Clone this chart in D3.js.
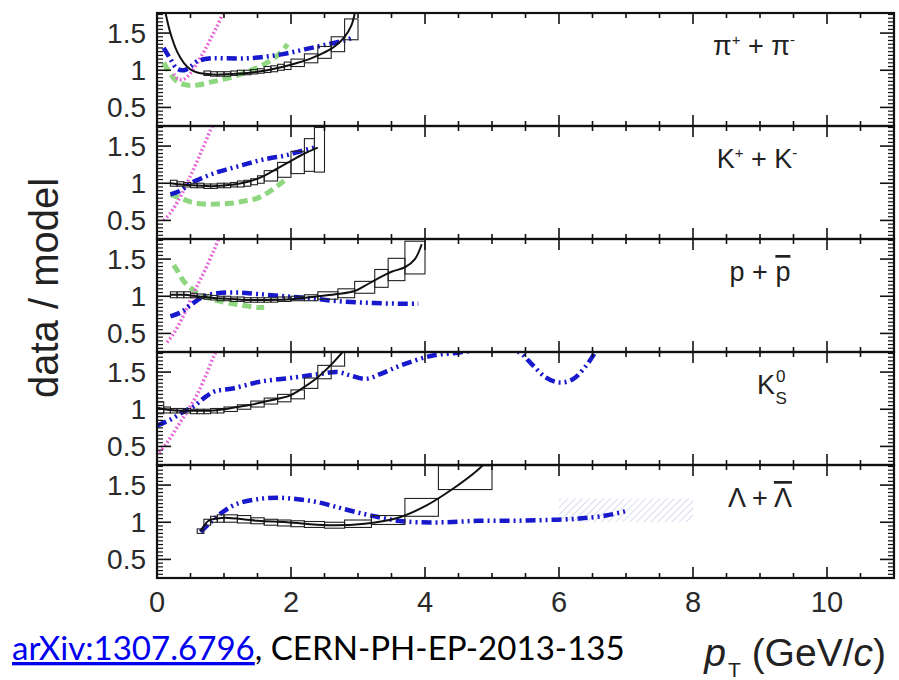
<!DOCTYPE html>
<html><head><meta charset="utf-8">
<script src="https://cdn.jsdelivr.net/npm/d3@7"></script>
<style>body{margin:0;background:#fff}</style>
</head><body><svg id="c" width="899" height="680"></svg>
<script>
// ---------------- data ----------------
const panelNames = ["pi", "K", "p", "K0S", "Lambda"];
const xTickValues = [0, 2, 4, 6, 8, 10];
const yTickValues = [0.5, 1, 1.5];
const xDomain = [0, 11];
const yDomain = [0.25, 1.77];

// black fit ratio curves [pT, data/model]
const piBlack = [[0.12,1.8],[0.2,1.5],[0.3,1.25],[0.4,1.1],[0.5,1.01],[0.6,0.97],[0.75,0.95],[0.9,0.94],[1.1,0.95],[1.3,0.96],[1.5,0.98],[1.7,1.01],[1.9,1.05],[2.1,1.1],[2.3,1.16],[2.5,1.24],[2.65,1.32],[2.8,1.45],[2.9,1.6],[2.96,1.8]];
const kBlack = [[0.2,1.0],[0.4,0.98],[0.6,0.97],[0.8,0.96],[1.0,0.97],[1.2,0.99],[1.4,1.03],[1.6,1.1],[1.8,1.2],[2.0,1.3],[2.2,1.4],[2.4,1.48]];
const pBlack = [[0.2,1.02],[0.4,1.02],[0.6,1.0],[0.8,0.98],[1.0,0.97],[1.3,0.95],[1.6,0.95],[2.0,0.96],[2.4,1.0],[2.7,1.03],[2.95,1.07],[3.1,1.14],[3.3,1.24],[3.5,1.33],[3.7,1.39],[3.85,1.5],[3.95,1.7]];
const k0Black = [[0.0,1.02],[0.2,0.99],[0.4,0.98],[0.6,0.98],[0.8,0.98],[1.0,1.0],[1.2,1.03],[1.4,1.06],[1.6,1.1],[1.8,1.14],[2.0,1.19],[2.2,1.3],[2.4,1.43],[2.6,1.6],[2.8,1.8]];
const lamBlack = [[0.65,0.88],[0.77,1.02],[0.9,1.05],[1.02,1.06],[1.5,1.02],[1.94,1.0],[2.55,0.96],[3.1,0.98],[3.6,1.06],[4.03,1.23],[4.4,1.44],[4.77,1.69],[4.9,1.8]];

// systematic boxes [pT low, pT high, ratio, syst]
const piBoxes = [[0.7,0.8,0.96,0.03],[0.8,0.9,0.95,0.03],[0.9,1.0,0.95,0.03],[1.0,1.1,0.95,0.03],[1.1,1.2,0.96,0.03],[1.2,1.3,0.97,0.03],[1.3,1.4,0.97,0.03],[1.4,1.5,0.98,0.03],[1.5,1.6,0.99,0.03],[1.6,1.7,1.01,0.04],[1.7,1.8,1.02,0.04],[1.8,1.9,1.04,0.04],[1.9,2.0,1.06,0.05],[2.0,2.2,1.1,0.05],[2.2,2.4,1.16,0.06],[2.4,2.6,1.24,0.08],[2.6,2.8,1.35,0.1],[2.8,3.0,1.55,0.14]];
const kBoxes = [[0.2,0.3,1.0,0.04],[0.3,0.4,0.99,0.03],[0.4,0.5,0.98,0.03],[0.5,0.6,0.97,0.03],[0.6,0.7,0.97,0.03],[0.7,0.8,0.96,0.03],[0.8,0.9,0.96,0.03],[0.9,1.0,0.97,0.03],[1.0,1.1,0.97,0.03],[1.1,1.2,0.98,0.03],[1.2,1.3,0.99,0.04],[1.3,1.4,1.0,0.04],[1.4,1.5,1.02,0.04],[1.5,1.6,1.05,0.05],[1.6,1.8,1.1,0.07],[1.8,2.0,1.18,0.1],[2.0,2.2,1.28,0.15],[2.2,2.35,1.38,0.22],[2.35,2.5,1.45,0.3]];
const pBoxes = [[0.2,0.3,1.02,0.04],[0.3,0.4,1.02,0.04],[0.4,0.5,1.02,0.04],[0.5,0.6,1.01,0.03],[0.6,0.7,1.0,0.03],[0.7,0.8,0.99,0.03],[0.8,0.9,0.98,0.03],[0.9,1.0,0.97,0.03],[1.0,1.1,0.97,0.03],[1.1,1.2,0.96,0.03],[1.2,1.3,0.96,0.03],[1.3,1.4,0.95,0.03],[1.4,1.5,0.95,0.03],[1.5,1.6,0.95,0.03],[1.6,1.7,0.95,0.03],[1.7,1.8,0.95,0.03],[1.8,1.9,0.96,0.03],[1.9,2.0,0.96,0.03],[2.0,2.2,0.97,0.03],[2.2,2.4,0.98,0.04],[2.4,2.7,1.01,0.05],[2.7,2.95,1.04,0.06],[2.95,3.25,1.12,0.08],[3.25,3.45,1.24,0.12],[3.45,3.7,1.36,0.15],[3.7,4.0,1.52,0.22]];
const k0Boxes = [[0.0,0.1,1.02,0.08],[0.1,0.2,0.99,0.04],[0.2,0.3,0.98,0.03],[0.3,0.4,0.98,0.03],[0.4,0.5,0.98,0.03],[0.5,0.6,0.97,0.03],[0.6,0.7,0.97,0.03],[0.7,0.8,0.97,0.03],[0.8,0.9,0.98,0.03],[0.9,1.0,0.98,0.03],[1.0,1.2,1.0,0.03],[1.2,1.4,1.03,0.03],[1.4,1.6,1.07,0.04],[1.6,1.8,1.11,0.04],[1.8,2.0,1.15,0.05],[2.0,2.2,1.2,0.06],[2.2,2.4,1.35,0.07],[2.4,2.6,1.5,0.09],[2.6,2.8,1.68,0.1]];
const lamBoxes = [[0.6,0.7,0.88,0.03],[0.7,0.8,1.0,0.04],[0.8,0.9,1.04,0.04],[0.9,1.0,1.05,0.05],[1.0,1.2,1.05,0.05],[1.2,1.4,1.04,0.05],[1.4,1.6,1.02,0.04],[1.6,1.8,1.0,0.04],[1.8,2.0,0.99,0.04],[2.0,2.2,0.98,0.04],[2.2,2.5,0.97,0.04],[2.5,2.8,0.96,0.04],[2.8,3.2,0.98,0.05],[3.2,3.7,1.03,0.06],[3.7,4.2,1.2,0.12],[4.2,5.0,1.6,0.16]];

// blue dash-dot-dot model ratios
const piBlue = [[0.1,1.3],[0.2,1.15],[0.3,1.02],[0.4,1.0],[0.5,1.05],[0.6,1.12],[0.8,1.16],[1.0,1.16],[1.3,1.16],[1.6,1.18],[1.9,1.22],[2.2,1.28],[2.5,1.34],[2.8,1.4],[2.9,1.43]];
const kBlue = [[0.2,0.85],[0.35,0.9],[0.5,1.0],[0.7,1.08],[0.9,1.15],[1.1,1.2],[1.3,1.25],[1.5,1.3],[1.7,1.34],[1.9,1.37],[2.1,1.42],[2.35,1.48]];
const pBlue = [[0.2,0.73],[0.35,0.78],[0.5,0.88],[0.7,1.0],[0.9,1.04],[1.2,1.05],[1.5,1.03],[1.9,1.0],[2.3,0.97],[2.75,0.93],[3.2,0.91],[3.6,0.9],[3.9,0.9]];
const k0Blue = [[0.0,0.78],[0.2,0.86],[0.4,0.97],[0.55,1.04],[0.7,1.15],[0.86,1.24],[1.13,1.28],[1.54,1.37],[2.07,1.43],[2.4,1.47],[2.7,1.5],[2.9,1.45],[3.12,1.41],[3.35,1.48],[3.64,1.59],[4.1,1.72],[4.5,1.76],[4.8,1.8],[5.1,1.82],[5.4,1.77],[5.6,1.6],[5.8,1.43],[6.0,1.36],[6.2,1.4],[6.4,1.58],[6.55,1.78]];
const lamBlue = [[0.65,0.87],[0.8,1.0],[1.0,1.15],[1.2,1.25],[1.5,1.31],[1.8,1.33],[2.1,1.31],[2.4,1.27],[2.7,1.2],[3.0,1.13],[3.3,1.07],[3.6,1.02],[3.9,1.0],[4.3,1.0],[4.8,1.02],[5.3,1.02],[5.8,1.03],[6.3,1.05],[6.7,1.09],[7.0,1.15]];

// green dashed model ratios
const piGreen = [[0.1,1.1],[0.2,0.95],[0.3,0.85],[0.45,0.8],[0.6,0.8],[0.8,0.84],[1.0,0.88],[1.2,0.93],[1.4,1.0],[1.6,1.08],[1.8,1.2],[1.95,1.35]];
const kGreen = [[0.2,0.85],[0.35,0.8],[0.5,0.75],[0.7,0.72],[0.9,0.72],[1.1,0.73],[1.3,0.76],[1.5,0.8],[1.7,0.9],[1.85,1.0],[1.95,1.07]];
const pGreen = [[0.25,1.42],[0.3,1.35],[0.4,1.2],[0.55,1.08],[0.7,1.0],[0.9,0.94],[1.2,0.89],[1.5,0.85],[1.6,0.85]];

// magenta dotted model ratios
const piMagenta = [[0.25,0.95],[0.32,0.88],[0.4,0.88],[0.5,0.96],[0.6,1.1],[0.7,1.25],[0.8,1.42],[0.9,1.6],[1.0,1.8]];
const kMagenta = [[0.1,0.5],[0.2,0.6],[0.35,0.82],[0.5,1.1],[0.65,1.4],[0.8,1.72],[0.85,1.82]];
const pMagenta = [[0.15,0.38],[0.25,0.5],[0.4,0.75],[0.55,1.05],[0.7,1.32],[0.85,1.62],[0.93,1.8]];
const k0Magenta = [[0.03,0.42],[0.15,0.55],[0.3,0.76],[0.45,0.97],[0.6,1.2],[0.75,1.5],[0.85,1.72],[0.9,1.8]];

// hatched uncertainty band [pT low, pT high, low, high]
const lamHatch = [[6.0, 8.0, 1.0, 1.32]];

const blackCurves = [piBlack, kBlack, pBlack, k0Black, lamBlack];
const boxSets = [piBoxes, kBoxes, pBoxes, k0Boxes, lamBoxes];
const blueCurves = [piBlue, kBlue, pBlue, k0Blue, lamBlue];
const greenCurves = [piGreen, kGreen, pGreen, [], []];
const magentaCurves = [piMagenta, kMagenta, pMagenta, k0Magenta, []];
const hatchSets = [[], [], [], [], lamHatch];

// ---------------- layout ----------------
const L = 157, R = 894, T = 13, B = 578;
const nP = panelNames.length;
const pH = (B - T) / nP;
const svg = d3.select("#c");
const FONT = "'Liberation Sans', Arial, Helvetica, sans-serif";

const x = d3.scaleLinear().domain(xDomain).range([L, R]);
const y = d3.scaleLinear().domain(yDomain).range([pH, 0]);

const defs = svg.append("defs");
const pat = defs.append("pattern").attr("id", "hatch").attr("patternUnits", "userSpaceOnUse")
  .attr("width", 5).attr("height", 5).attr("patternTransform", "rotate(45)");
pat.append("line").attr("x1", 0).attr("y1", 0).attr("x2", 0).attr("y2", 5)
  .attr("stroke", "#c9cde8").attr("stroke-width", 1.4);

const line = d3.line().x(d => x(d[0])).y(d => y(d[1])).curve(d3.curveCatmullRom.alpha(0.5));

const minorX = d3.range(0, 11.01, 0.5);
const minorY = d3.range(0.3, 1.76, 0.05).filter(v => Math.abs(v*2 - Math.round(v*2)) > 1e-6);

panelNames.forEach((name, i) => {
  const g = svg.append("g").attr("transform", `translate(0,${T + i * pH})`);
  defs.append("clipPath").attr("id", "clip" + i).append("rect")
    .attr("x", L).attr("y", 0).attr("width", R - L).attr("height", pH);
  const c = g.append("g").attr("clip-path", `url(#clip${i})`);

  hatchSets[i].forEach(h => {
    c.append("rect").attr("x", x(h[0])).attr("width", x(h[1]) - x(h[0]))
      .attr("y", y(h[3])).attr("height", y(h[2]) - y(h[3]))
      .attr("fill", "url(#hatch)");
  });
  if (greenCurves[i].length)
    c.append("path").datum(greenCurves[i]).attr("d", line).attr("fill", "none")
      .attr("stroke", "#72cc60").attr("stroke-width", 5).attr("stroke-dasharray", "9,5")
      .attr("opacity", 0.8);
  if (magentaCurves[i].length)
    c.append("path").datum(magentaCurves[i]).attr("d", line).attr("fill", "none")
      .attr("stroke", "#e860d8").attr("stroke-width", 3.5).attr("stroke-dasharray", "1.8,2.4");
  c.append("path").datum(blueCurves[i]).attr("d", line).attr("fill", "none")
    .attr("stroke", "#1818cc").attr("stroke-width", 4.5).attr("stroke-dasharray", "10,4,2,4,2,4");
  c.selectAll("rect.box").data(boxSets[i]).join("rect").attr("class", "box")
    .attr("x", d => x(d[0])).attr("width", d => x(d[1]) - x(d[0]))
    .attr("y", d => y(d[2] + d[3])).attr("height", d => y(d[2] - d[3]) - y(d[2] + d[3]))
    .attr("fill", "none").attr("stroke", "#222").attr("stroke-width", 1.1);
  c.append("path").datum(blackCurves[i]).attr("d", line).attr("fill", "none")
    .attr("stroke", "#111").attr("stroke-width", 2);

  // ticks
  const tk = g.append("g").attr("stroke", "#111");
  minorX.forEach(v => {
    const len = (Math.abs(v % 2) < 1e-6) ? 11 : 5;
    tk.append("line").attr("x1", x(v)).attr("x2", x(v)).attr("y1", 0).attr("y2", len).attr("stroke-width", 1.6);
    tk.append("line").attr("x1", x(v)).attr("x2", x(v)).attr("y1", pH).attr("y2", pH - len).attr("stroke-width", 1.6);
  });
  minorY.forEach(v => {
    tk.append("line").attr("x1", L).attr("x2", L + 6).attr("y1", y(v)).attr("y2", y(v)).attr("stroke-width", 1.2);
    tk.append("line").attr("x1", R).attr("x2", R - 6).attr("y1", y(v)).attr("y2", y(v)).attr("stroke-width", 1.2);
  });
  yTickValues.forEach(v => {
    tk.append("line").attr("x1", L).attr("x2", L + 14).attr("y1", y(v)).attr("y2", y(v)).attr("stroke-width", 1.6);
    tk.append("line").attr("x1", R).attr("x2", R - 14).attr("y1", y(v)).attr("y2", y(v)).attr("stroke-width", 1.6);
    g.append("text").attr("x", 146).attr("y", y(v)).attr("dy", "0.36em")
      .attr("text-anchor", "end").attr("font-family", FONT).attr("font-size", 28).attr("fill", "#2a2a2a")
      .text(v);
  });
  g.append("rect").attr("x", L).attr("y", 0).attr("width", R - L).attr("height", pH)
    .attr("fill", "none").attr("stroke", "#111").attr("stroke-width", 2.2);
});

// panel labels
function label(i, build, cx) {
  const t = svg.append("text").attr("x", cx).attr("y", T + i * pH + 42)
    .attr("font-family", FONT).attr("font-size", 27).attr("fill", "#222").attr("text-anchor", "middle");
  build(t);
}
label(0, t => { t.append("tspan").text("π"); t.append("tspan").attr("font-size", 15).attr("dy", -10).text("+");
  t.append("tspan").attr("dy", 10).text(" + π"); t.append("tspan").attr("font-size", 15).attr("dy", -10).text("-"); }, 754);
label(1, t => { t.append("tspan").text("K"); t.append("tspan").attr("font-size", 15).attr("dy", -10).text("+");
  t.append("tspan").attr("dy", 10).text(" + K"); t.append("tspan").attr("font-size", 15).attr("dy", -10).text("-"); }, 757);
label(2, t => { t.append("tspan").text("p + "); t.append("tspan").attr("text-decoration", "overline").text("p"); }, 760);
label(3, t => { t.append("tspan").text("K"); t.append("tspan").attr("font-size", 17).attr("dx", 1).attr("dy", -12).text("0");
  t.append("tspan").attr("font-size", 17).attr("dx", -10).attr("dy", 22).text("S"); }, 772);
label(4, t => { t.append("tspan").text("Λ + "); t.append("tspan").attr("text-decoration", "overline").text("Λ"); }, 760);

// x axis tick labels
xTickValues.forEach(v => {
  svg.append("text").attr("x", x(v)).attr("y", 612).attr("text-anchor", "middle")
    .attr("font-family", FONT).attr("font-size", 29).attr("fill", "#2a2a2a").text(v);
});

// axis titles
svg.append("text").attr("transform", "translate(58,288) rotate(-90)").attr("text-anchor", "middle")
  .attr("font-family", FONT).attr("font-size", 40).attr("fill", "#222").text("data / model");
const xt = svg.append("text").attr("x", 886).attr("y", 666).attr("text-anchor", "end")
  .attr("font-family", FONT).attr("font-size", 39).attr("fill", "#222");
xt.append("tspan").attr("font-style", "italic").text("p");
xt.append("tspan").attr("font-size", 21).attr("dx", 2).attr("dy", 11).text("T");
xt.append("tspan").attr("dy", -11).text(" (GeV/");
xt.append("tspan").attr("font-style", "italic").text("c");
xt.append("tspan").text(")");

// footnote
const fn = svg.append("text").attr("x", 12).attr("y", 660).attr("font-family", "Lato, 'Open Sans', sans-serif")
  .attr("font-size", 30);
fn.append("tspan").attr("fill", "#0000ee").attr("text-decoration", "underline").text("arXiv:1307.6796");
fn.append("tspan").attr("fill", "#000").text(", CERN-PH-EP-2013-135");
const wNow = fn.node().getComputedTextLength();
fn.attr("font-size", 30 * 613 / wNow);
</script></body></html>
